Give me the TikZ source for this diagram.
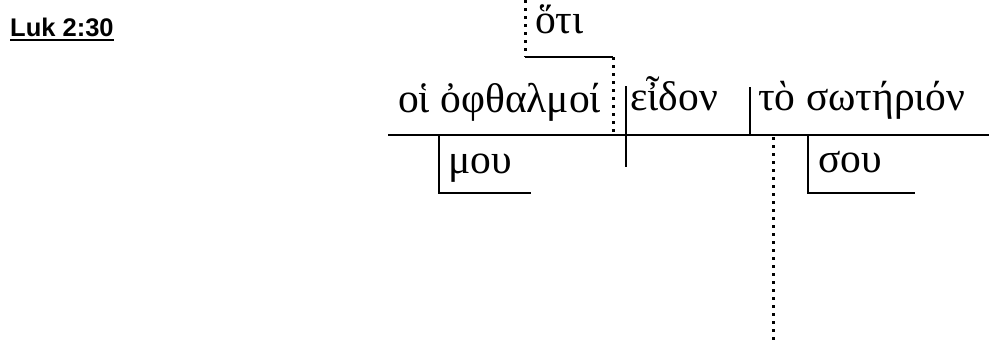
\documentclass[tikz,border=0pt]{standalone}
\usepackage{fontspec}
\setmainfont{Liberation Serif}
\newfontfamily\titlefont{Liberation Sans}
\newfontfamily\grk[Script=Greek]{Liberation Serif}
\tikzset{
  rule/.style={line width=2pt},
  dotrule/.style={line width=3pt, dash pattern=on 3pt off 5pt},
  greek/.style={inner sep=0pt, anchor=base west, font=\grk\fontsize{41.5}{44}\selectfont},
}
\begin{document}
\begin{tikzpicture}[x=1pt,y=-1pt]
\useasboundingbox (0,0) rectangle (989,343);
% title
\node[inner sep=0pt, anchor=base west, font=\titlefont\bfseries\fontsize{25.5}{28}\selectfont] (title) at (10,36) {Luk 2:30};
\draw[line width=2.6pt] (title.base west) ++(0,4) coordinate (ulL) -- (ulL -| title.base east);
% text
\node[greek] (subj) at (398,112) {οἱ ὀφθαλμοί};
\node[greek] (hoti) at (535,33) {ὅτι};
\node[greek] (verb) at (630,110) {εἶδον};
\node[greek] (obj) at (758,110) {τὸ σωτήριόν};
\node[greek] (mou) at (448,173) {μου};
\node[greek] (sou) at (818,172) {σου};
% coordinates
\coordinate (mainL) at (388,135);
\coordinate (mainR) at (989,135);
\coordinate (svT) at (626,86);
\coordinate (svB) at (626,167);
\coordinate (voT) at (750,87);
\coordinate (voB) at (750,135);
\coordinate (m1) at (439,135);
\coordinate (m2) at (439,193);
\coordinate (m3) at (531,193);
\coordinate (s1) at (808,135);
\coordinate (s2) at (808,193);
\coordinate (s3) at (915,193);
\coordinate (hTop) at (525,0);
\coordinate (hL) at (525,57);
\coordinate (hR) at (613,57);
\coordinate (hB) at (613,133);
\coordinate (dT) at (773,137);
\coordinate (dB) at (773,343);
% lines
\draw[rule] (mainL) -- (mainR);
\draw[rule] (svT) -- (svB);
\draw[rule] (voT) -- (voB);
\draw[rule] (m1) -- (m2) -- (m3);
\draw[rule] (s1) -- (s2) -- (s3);
\draw[rule] (hL) -- (hR);
\draw[dotrule] (hTop) -- (hL);
\draw[dotrule] (hR) -- (hB);
\draw[dotrule] (dT) -- (dB);
\end{tikzpicture}
\end{document}
